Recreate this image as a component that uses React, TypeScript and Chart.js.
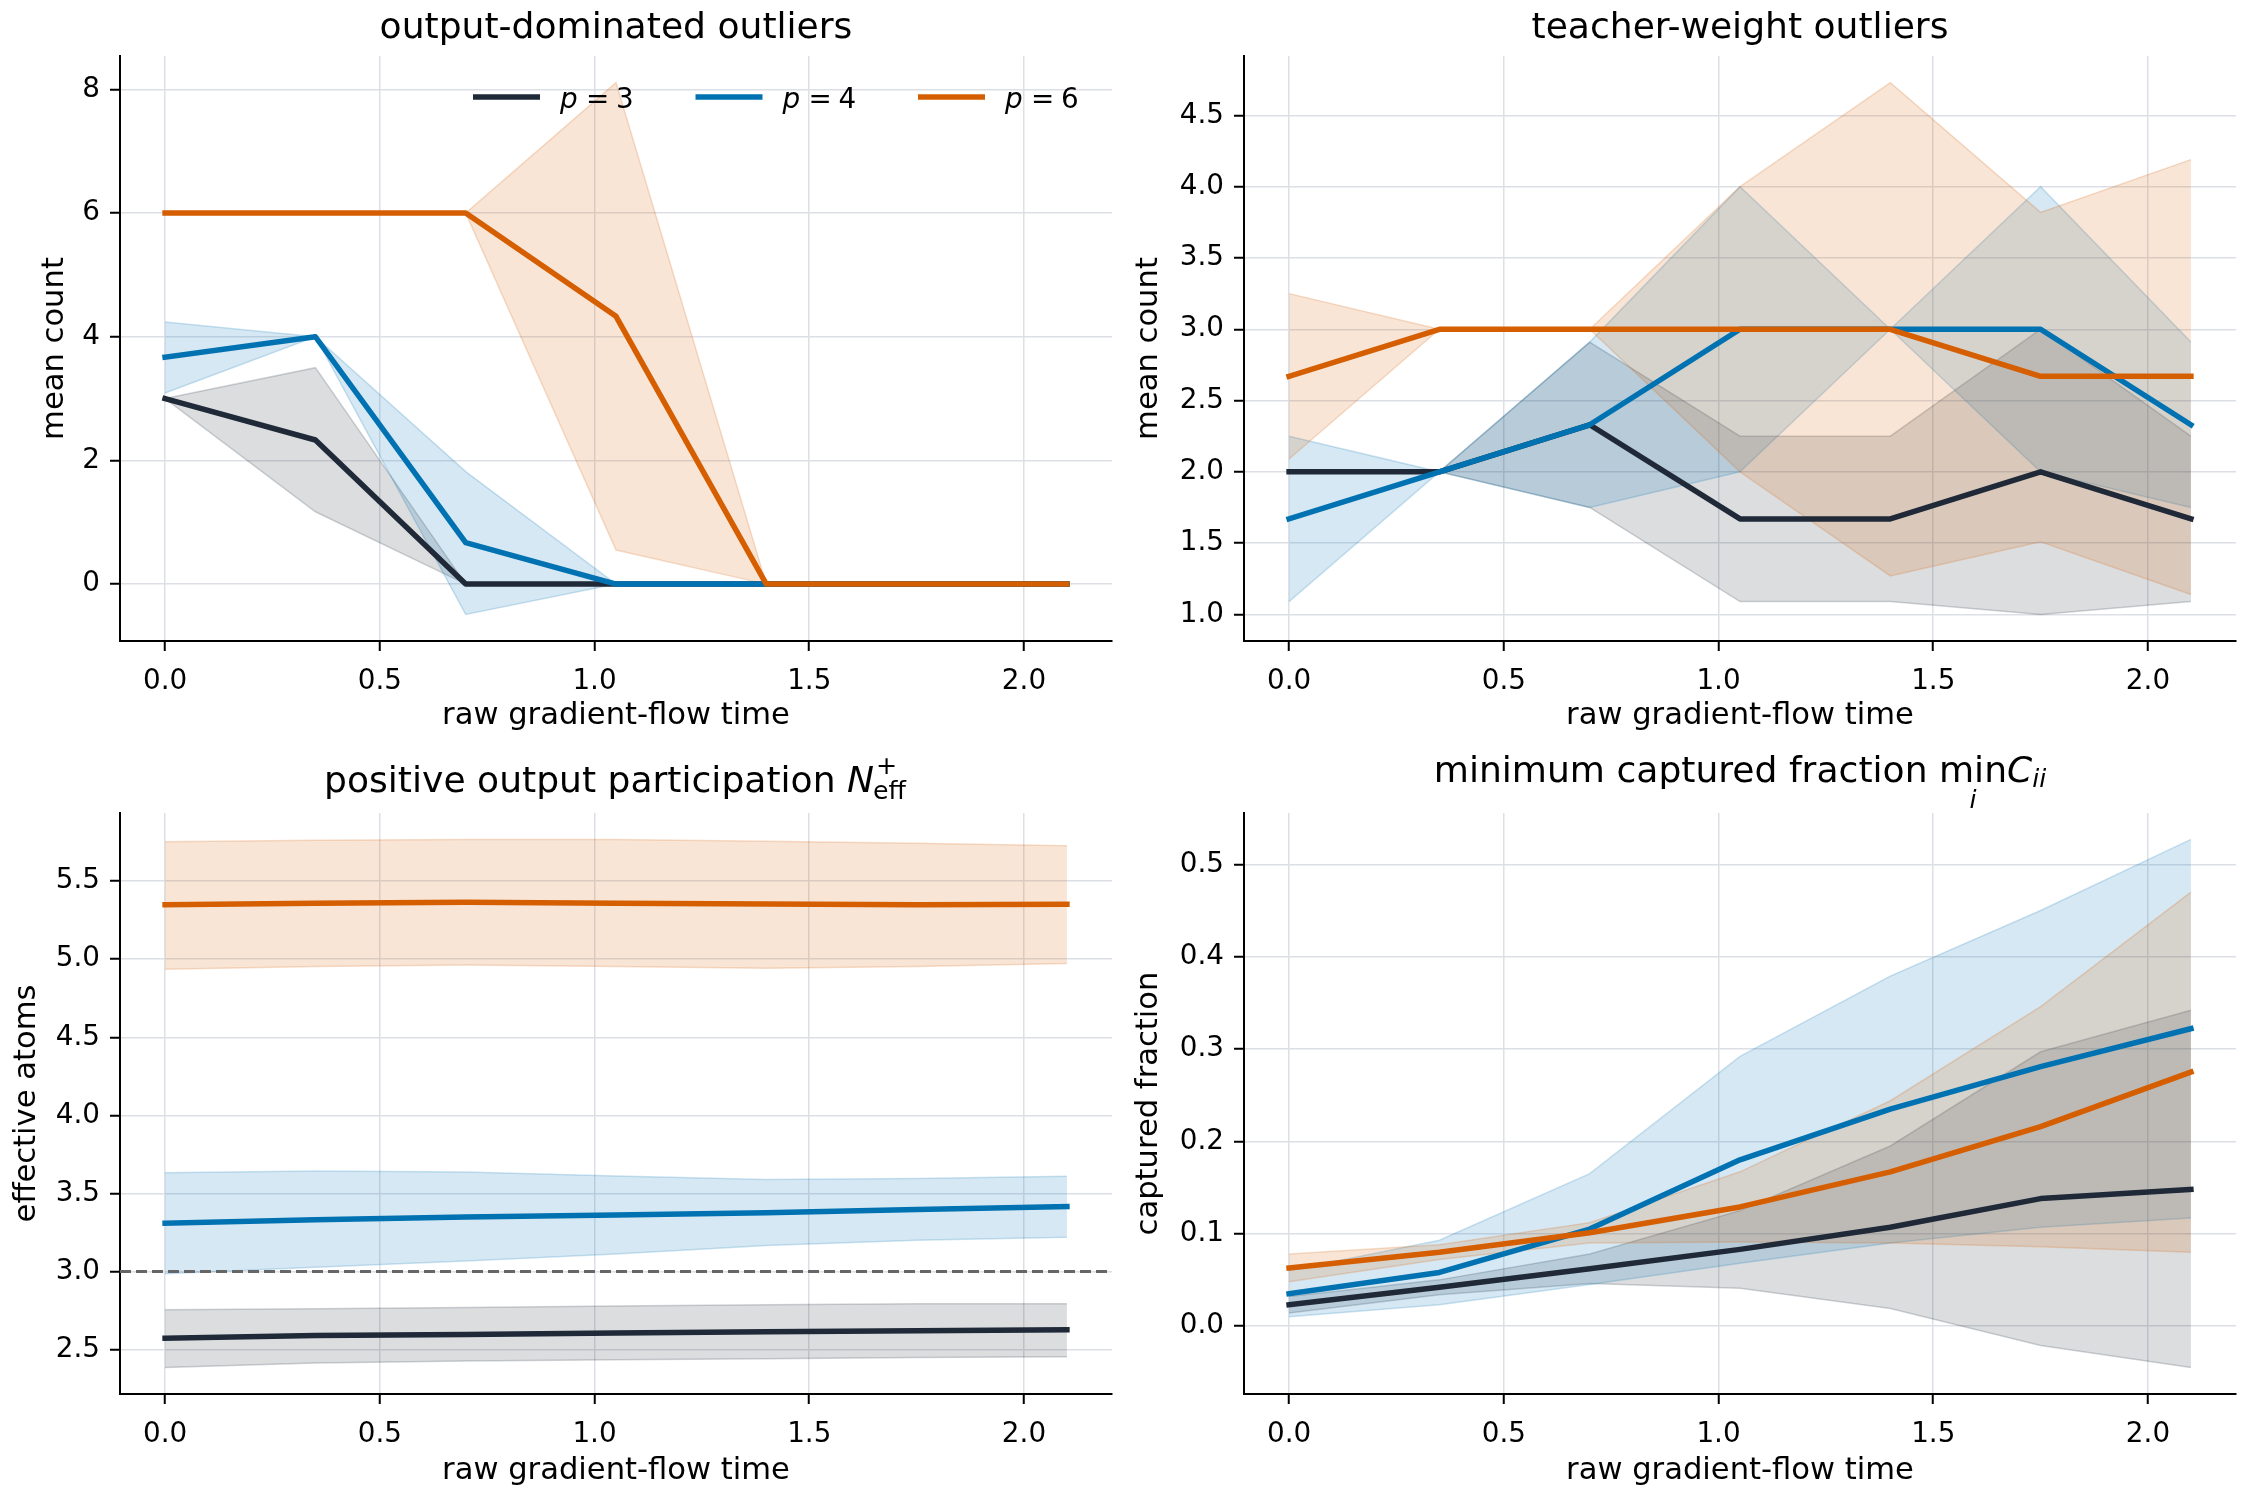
import React, { useEffect, useRef } from 'react';
import { Chart, registerables } from 'chart.js';

Chart.register(...registerables);

// ---------------- data ----------------
const times = [0, 0.35, 0.7, 1.05, 1.4, 1.75, 2.1];
const xTicks = [0, 0.5, 1.0, 1.5, 2.0];
const xTickLabels = ['0.0', '0.5', '1.0', '1.5', '2.0'];
const legendLabels = ['3', '4', '6'];
const seriesColors = ['#1f2937', '#0072b2', '#d55e00'];

// output-dominated outliers
const outP3Mean = [3, 2.33, 0, 0, 0, 0, 0];
const outP3Lo = [3, 1.17, 0, 0, 0, 0, 0];
const outP3Hi = [3, 3.5, 0, 0, 0, 0, 0];
const outP4Mean = [3.67, 4, 0.67, 0, 0, 0, 0];
const outP4Lo = [3.09, 4, -0.49, 0, 0, 0, 0];
const outP4Hi = [4.24, 4, 1.82, 0, 0, 0, 0];
const outP6Mean = [6, 6, 6, 4.33, 0, 0, 0];
const outP6Lo = [6, 6, 6, 0.55, 0, 0, 0];
const outP6Hi = [6, 6, 6, 8.11, 0, 0, 0];
const outYTicks = [0, 2, 4, 6, 8];
const outYTickLabels = ['0', '2', '4', '6', '8'];

// teacher-weight outliers
const twP3Mean = [2, 2, 2.33, 1.67, 1.67, 2, 1.67];
const twP3Lo = [2, 2, 1.75, 1.09, 1.09, 1.0, 1.09];
const twP3Hi = [2, 2, 2.91, 2.25, 2.25, 3.0, 2.25];
const twP4Mean = [1.67, 2, 2.33, 3, 3, 3, 2.33];
const twP4Lo = [1.09, 2, 1.75, 2.0, 3, 2.0, 1.75];
const twP4Hi = [2.25, 2, 2.91, 4.0, 3, 4.0, 2.91];
const twP6Mean = [2.67, 3, 3, 3, 3, 2.67, 2.67];
const twP6Lo = [2.09, 3, 3, 2.0, 1.27, 1.51, 1.14];
const twP6Hi = [3.25, 3, 3, 4.0, 4.73, 3.82, 4.19];
const twYTicks = [1.0, 1.5, 2.0, 2.5, 3.0, 3.5, 4.0, 4.5];
const twYTickLabels = ['1.0', '1.5', '2.0', '2.5', '3.0', '3.5', '4.0', '4.5'];

// positive output participation
const pcP3Mean = [2.573, 2.591, 2.597, 2.606, 2.615, 2.621, 2.627];
const pcP3Lo = [2.385, 2.415, 2.427, 2.436, 2.442, 2.45, 2.455];
const pcP3Hi = [2.755, 2.761, 2.77, 2.779, 2.788, 2.794, 2.794];
const pcP4Mean = [3.31, 3.331, 3.35, 3.362, 3.377, 3.398, 3.416];
const pcP4Lo = [2.986, 3.028, 3.067, 3.113, 3.167, 3.2, 3.219];
const pcP4Hi = [3.632, 3.644, 3.638, 3.611, 3.589, 3.595, 3.61];
const pcP6Mean = [5.348, 5.358, 5.364, 5.358, 5.353, 5.349, 5.351];
const pcP6Lo = [4.936, 4.954, 4.963, 4.954, 4.942, 4.954, 4.972];
const pcP6Hi = [5.752, 5.761, 5.767, 5.767, 5.755, 5.743, 5.727];
const pcReference = 3.0;
const pcYTicks = [2.5, 3.0, 3.5, 4.0, 4.5, 5.0, 5.5];
const pcYTickLabels = ['2.5', '3.0', '3.5', '4.0', '4.5', '5.0', '5.5'];

// minimum captured fraction
const mcP3Mean = [0.023, 0.042, 0.062, 0.083, 0.107, 0.138, 0.148];
const mcP3Lo = [0.014, 0.034, 0.046, 0.041, 0.019, -0.021, -0.045];
const mcP3Hi = [0.032, 0.05, 0.078, 0.125, 0.195, 0.297, 0.342];
const mcP4Mean = [0.035, 0.058, 0.105, 0.18, 0.235, 0.281, 0.322];
const mcP4Lo = [0.01, 0.023, 0.045, 0.068, 0.09, 0.107, 0.117];
const mcP4Hi = [0.06, 0.093, 0.165, 0.292, 0.379, 0.45, 0.527];
const mcP6Mean = [0.063, 0.08, 0.101, 0.129, 0.167, 0.216, 0.275];
const mcP6Lo = [0.048, 0.072, 0.09, 0.091, 0.09, 0.086, 0.08];
const mcP6Hi = [0.078, 0.088, 0.112, 0.167, 0.244, 0.346, 0.47];
const mcYTicks = [0.0, 0.1, 0.2, 0.3, 0.4, 0.5];
const mcYTickLabels = ['0.0', '0.1', '0.2', '0.3', '0.4', '0.5'];

// ---------------- styling ----------------
const FF = '"DejaVu Sans"';
const W = 1122;
const H = 748;
const TICK_SIZE = 27.8;
const LABEL_SIZE = 30.6;
const TITLE_SIZE = 36.1;
const GRID = '#dcdfe5';

function rgba(hex: string, a: number) {
  const n = parseInt(hex.slice(1), 16);
  return `rgba(${(n >> 16) & 255},${(n >> 8) & 255},${n & 255},${a})`;
}

type Series = { mean: number[]; lo: number[]; hi: number[] };
type Panel = {
  key: string;
  cx: number;
  cy: number;
  area: { left: number; right: number; top: number; bottom: number };
  title: string;
  titleBaseline: number;
  xLabelBaseline: number;
  yLabel: string;
  yLabelX: number;
  yTicks: number[];
  yTickLabels: string[];
  series: Series[];
  reference?: number;
  legend?: boolean;
};

const panels: Panel[] = [
  {
    key: 'out', cx: 0, cy: 0,
    area: { left: 120, right: 1112, top: 56, bottom: 641 },
    title: 'output-dominated outliers', titleBaseline: 38, xLabelBaseline: 724,
    yLabel: 'mean count', yLabelX: 63,
    yTicks: outYTicks, yTickLabels: outYTickLabels,
    series: [
      { mean: outP3Mean, lo: outP3Lo, hi: outP3Hi },
      { mean: outP4Mean, lo: outP4Lo, hi: outP4Hi },
      { mean: outP6Mean, lo: outP6Lo, hi: outP6Hi },
    ],
    legend: true,
  },
  {
    key: 'tw', cx: 1122, cy: 0,
    area: { left: 122, right: 1114, top: 56, bottom: 641 },
    title: 'teacher-weight outliers', titleBaseline: 38, xLabelBaseline: 724,
    yLabel: 'mean count', yLabelX: 35,
    yTicks: twYTicks, yTickLabels: twYTickLabels,
    series: [
      { mean: twP3Mean, lo: twP3Lo, hi: twP3Hi },
      { mean: twP4Mean, lo: twP4Lo, hi: twP4Hi },
      { mean: twP6Mean, lo: twP6Lo, hi: twP6Hi },
    ],
  },
  {
    key: 'pc', cx: 0, cy: 748,
    area: { left: 120, right: 1112, top: 65, bottom: 646 },
    title: 'neff', titleBaseline: 44, xLabelBaseline: 731,
    yLabel: 'effective atoms', yLabelX: 35,
    yTicks: pcYTicks, yTickLabels: pcYTickLabels,
    series: [
      { mean: pcP3Mean, lo: pcP3Lo, hi: pcP3Hi },
      { mean: pcP4Mean, lo: pcP4Lo, hi: pcP4Hi },
      { mean: pcP6Mean, lo: pcP6Lo, hi: pcP6Hi },
    ],
    reference: pcReference,
  },
  {
    key: 'mc', cx: 1122, cy: 748,
    area: { left: 122, right: 1114, top: 65, bottom: 646 },
    title: 'minc', titleBaseline: 34, xLabelBaseline: 731,
    yLabel: 'captured fraction', yLabelX: 35,
    yTicks: mcYTicks, yTickLabels: mcYTickLabels,
    series: [
      { mean: mcP3Mean, lo: mcP3Lo, hi: mcP3Hi },
      { mean: mcP4Mean, lo: mcP4Lo, hi: mcP4Hi },
      { mean: mcP6Mean, lo: mcP6Lo, hi: mcP6Hi },
    ],
  },
];

function pts(ys: number[]) {
  return ys.map((y, i) => ({ x: times[i], y }));
}

function drawTitle(ctx: CanvasRenderingContext2D, p: Panel, cx: number) {
  const base = `${TITLE_SIZE}px ${FF}`;
  const ital = `italic ${TITLE_SIZE}px ${FF}`;
  const small = `${TITLE_SIZE * 0.7}px ${FF}`;
  const smallIt = `italic ${TITLE_SIZE * 0.7}px ${FF}`;
  const y = p.titleBaseline;
  ctx.fillStyle = '#000';
  ctx.textBaseline = 'alphabetic';
  ctx.textAlign = 'left';
  const m = (t: string, f: string) => { ctx.font = f; return ctx.measureText(t).width; };
  if (p.title === 'neff') {
    const t1 = 'positive output participation ';
    const w1 = m(t1, base), wN = m('N', ital), wSup = m('+', small), wSub = m('eff', small);
    const total = w1 + wN + 1 + Math.max(wSup, wSub);
    const x0 = cx - total / 2;
    ctx.font = base; ctx.fillText(t1, x0, y);
    ctx.font = ital; ctx.fillText('N', x0 + w1, y);
    ctx.font = small;
    ctx.fillText('+', x0 + w1 + wN + 2, y - 18);
    ctx.fillText('eff', x0 + w1 + wN - 1, y + 7);
  } else if (p.title === 'minc') {
    const t1 = 'minimum captured fraction ';
    const w1 = m(t1, base), wMin = m('min', base), wC = m('C', ital), wii = m('ii', smallIt);
    const total = w1 + wMin + wC + wii;
    const x0 = cx - total / 2;
    ctx.font = base; ctx.fillText(t1, x0, y); ctx.fillText('min', x0 + w1, y);
    ctx.font = smallIt; ctx.textAlign = 'center';
    ctx.fillText('i', x0 + w1 + wMin / 2, y + 26);
    ctx.textAlign = 'left';
    ctx.font = ital; ctx.fillText('C', x0 + w1 + wMin, y);
    ctx.font = smallIt; ctx.fillText('ii', x0 + w1 + wMin + wC, y + 5);
  } else {
    ctx.font = base; ctx.textAlign = 'center';
    ctx.fillText(p.title, cx, y);
  }
}

function makeChart(canvas: HTMLCanvasElement, p: Panel) {
  const all: number[] = [];
  p.series.forEach((s) => { all.push(...s.lo, ...s.hi, ...s.mean); });
  const yMin0 = Math.min(...all), yMax0 = Math.max(...all);
  const yPad = (yMax0 - yMin0) * 0.05;
  const xPad = (times[times.length - 1] - times[0]) * 0.05;

  // bands first (below every line), then mean lines (p=6 on top)
  const bands: any[] = [];
  const lines: any[] = [];
  p.series.forEach((s, si) => {
    const c = seriesColors[si];
    bands.push({
      data: pts(s.lo), borderColor: rgba(c, 0.2), borderWidth: 1.5, pointRadius: 0,
      fill: false, tension: 0,
    });
    bands.push({
      data: pts(s.hi), borderColor: rgba(c, 0.2), borderWidth: 1.5, pointRadius: 0,
      fill: '-1', backgroundColor: rgba(c, 0.16), tension: 0,
    });
    lines.push({
      data: pts(s.mean), borderColor: c, borderWidth: 5.5, pointRadius: 0, fill: false,
      tension: 0, borderJoinStyle: 'round', borderCapStyle: 'square',
    });
  });
  const datasets = [...bands, ...lines];
  datasets.forEach((d, i) => { d.order = 100 - i; });

  const A = p.area;
  const decor = {
    id: 'decor_' + p.key,
    afterDatasetsDraw(chart: any) {
      if (p.reference === undefined) return;
      const ctx = chart.ctx as CanvasRenderingContext2D;
      const yy = chart.scales.y.getPixelForValue(p.reference);
      ctx.save();
      ctx.strokeStyle = '#666666';
      ctx.lineWidth = 3;
      ctx.setLineDash([11, 5]);
      ctx.beginPath();
      ctx.moveTo(chart.chartArea.left, yy);
      ctx.lineTo(chart.chartArea.right, yy);
      ctx.stroke();
      ctx.restore();
    },
    afterDraw(chart: any) {
      const ctx = chart.ctx as CanvasRenderingContext2D;
      const ca = chart.chartArea;
      const cx = (ca.left + ca.right) / 2;
      ctx.save();
      drawTitle(ctx, p, cx);
      ctx.fillStyle = '#000';
      ctx.font = `${LABEL_SIZE}px ${FF}`;
      ctx.textAlign = 'center';
      ctx.textBaseline = 'alphabetic';
      ctx.fillText('raw gradient-flow time', cx, p.xLabelBaseline);
      ctx.save();
      ctx.translate(p.yLabelX, (ca.top + ca.bottom) / 2);
      ctx.rotate(-Math.PI / 2);
      ctx.fillText(p.yLabel, 0, 0);
      ctx.restore();
      if (p.legend) {
        for (let i = 0; i < legendLabels.length; i++) {
          const off = 222.5 * i;
          ctx.strokeStyle = seriesColors[i];
          ctx.lineWidth = 5.5;
          ctx.lineCap = 'butt';
          ctx.beginPath();
          ctx.moveTo(473 + off, 97);
          ctx.lineTo(540 + off, 97);
          ctx.stroke();
          ctx.fillStyle = '#000';
          ctx.textAlign = 'left';
          ctx.font = `italic ${TICK_SIZE}px ${FF}`;
          ctx.fillText('p', 560 + off, 107.5);
          ctx.font = `${TICK_SIZE}px ${FF}`;
          ctx.fillText('=', 586 + off, 107.5);
          ctx.fillText(legendLabels[i], 616 + off, 107.5);
        }
      }
      ctx.restore();
    },
  };

  const tickFont = { family: FF, size: TICK_SIZE };
  return new Chart(canvas, {
    type: 'line',
    data: { datasets },
    options: {
      animation: false,
      responsive: false,
      devicePixelRatio: 1,
      events: [],
      layout: { padding: { top: A.top, right: W - A.right, bottom: 0, left: 0 } },
      plugins: { legend: { display: false }, title: { display: false }, tooltip: { enabled: false } },
      scales: {
        x: {
          type: 'linear',
          min: times[0] - xPad,
          max: times[times.length - 1] + xPad,
          afterBuildTicks: (s: any) => { s.ticks = xTicks.map((v) => ({ value: v })); },
          afterFit: (s: any) => { s.height = H - A.bottom; },
          ticks: {
            callback: (_v: any, i: number) => xTickLabels[i],
            font: tickFont, color: '#000', padding: 14, maxRotation: 0, minRotation: 0, autoSkip: false,
          },
          grid: { color: GRID, lineWidth: 1.5, tickLength: 10, tickColor: '#000', tickWidth: 2 },
          border: { display: true, color: '#000', width: 2 },
        },
        y: {
          type: 'linear',
          min: yMin0 - yPad,
          max: yMax0 + yPad,
          afterBuildTicks: (s: any) => { s.ticks = p.yTicks.map((v) => ({ value: v })); },
          afterFit: (s: any) => { s.width = A.left; },
          ticks: {
            callback: (_v: any, i: number) => p.yTickLabels[i],
            font: tickFont, color: '#000', padding: 10, autoSkip: false,
          },
          grid: { color: GRID, lineWidth: 1.5, tickLength: 10, tickColor: '#000', tickWidth: 2 },
          border: { display: true, color: '#000', width: 2 },
        },
      },
    } as any,
    plugins: [decor],
  });
}

export default function App() {
  const refs = useRef<(HTMLCanvasElement | null)[]>([]);
  useEffect(() => {
    document.body.style.margin = '0';
    document.body.style.background = '#ffffff';
    const charts = panels.map((p, i) => makeChart(refs.current[i] as HTMLCanvasElement, p));
    return () => { charts.forEach((c) => c.destroy()); };
  }, []);
  return (
    <div style={{ position: 'relative', width: 2244, height: 1496, background: '#fff' }}>
      {panels.map((p, i) => (
        <canvas
          key={p.key}
          ref={(el) => { refs.current[i] = el; }}
          width={W}
          height={H}
          style={{ position: 'absolute', left: p.cx, top: p.cy, width: W, height: H }}
        />
      ))}
    </div>
  );
}
